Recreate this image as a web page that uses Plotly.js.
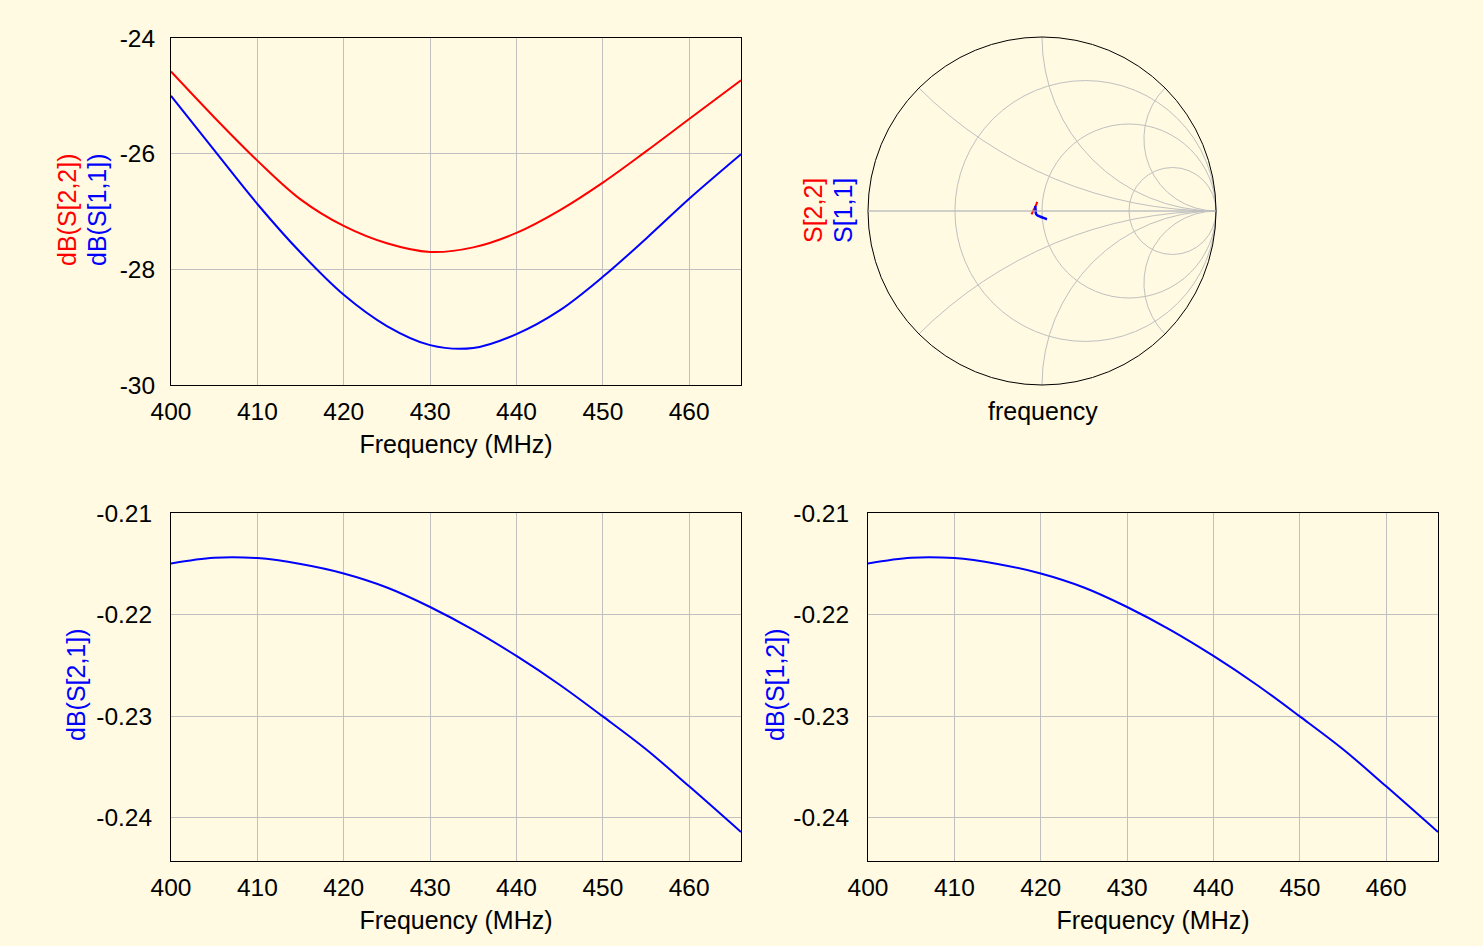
<!DOCTYPE html>
<html>
<head>
<meta charset="utf-8">
<script src="https://cdn.plot.ly/plotly-3.0.1.min.js"></script>
<style>
html, body { margin:0; padding:0; background:#fffae1; }
#chart { width:1483px; height:946px; }
</style>
</head>
<body>
<div id="chart"></div>
<script>
// sweep points (MHz)
var freq = [400, 405, 410, 415, 420, 425, 430, 435, 440, 445, 450, 455, 460, 466];

// reflection, dB
var s22Db = [-24.58, -25.37, -26.12, -26.79, -27.25, -27.55, -27.70, -27.62, -27.37, -26.98, -26.50, -25.96, -25.40, -24.73];
var s11Db = [-25.00, -25.94, -26.87, -27.71, -28.44, -28.98, -29.31, -29.36, -29.12, -28.71, -28.13, -27.47, -26.78, -26.01];

// transmission, dB
var s21Db = [-0.21496, -0.21440, -0.21444, -0.21502, -0.21595, -0.21733, -0.21925, -0.22150, -0.22407, -0.22690, -0.23002, -0.23325, -0.23690, -0.24140];
var s12Db = [-0.21496, -0.21440, -0.21444, -0.21502, -0.21595, -0.21733, -0.21925, -0.22150, -0.22407, -0.22690, -0.23002, -0.23325, -0.23690, -0.24140];

// smith chart, reflection coefficient (re, im)
var s22GamRe = [-0.027, -0.031, -0.036, -0.042, -0.049, -0.055, -0.060];
var s22GamIm = [0.053, 0.043, 0.031, 0.018, 0.005, -0.008, -0.019];
var s11GamRe = [-0.0385, -0.037, -0.0345, -0.025, -0.0115, 0.008, 0.0287];
var s11GamIm = [0.0287, 0.010, -0.0155, -0.026, -0.0316, -0.040, -0.0477];

var fTicks = [400, 410, 420, 430, 440, 450, 460];
var fTickText = ['400', '410', '420', '430', '440', '450', '460'];
var reflTicks = [-30, -28, -26, -24];
var reflTickText = ['-30', '-28', '-26', '-24'];
var transTicks = [-0.24, -0.23, -0.22, -0.21];
var transTickText = ['-0.24', '-0.23', '-0.22', '-0.21'];

// smith grid: resistance circles and reactance arcs
var rGrid = [0.333, 1, 3];
var xGrid = [-2.414, -1, -0.414, 0, 0.414, 1, 2.414];

function gammaToZ(re, im) {
    var r = [], x = [];
    for (var i = 0; i < re.length; i++) {
        var a = re[i], b = im[i];
        var d = (1 - a) * (1 - a) + b * b;
        r.push((1 - a * a - b * b) / d);
        x.push(2 * b / d);
    }
    return {r: r, x: x};
}

var RED = '#ff0000', BLUE = '#0000ff';
var z22 = gammaToZ(s22GamRe, s22GamIm);
var z11 = gammaToZ(s11GamRe, s11GamIm);

var lineOf = function(c) { return {color: c, width: 2, shape: 'spline', smoothing: 1}; };

var data = [
    {x: freq, y: s22Db, xaxis: 'x', yaxis: 'y', mode: 'lines', line: lineOf(RED), name: 'dB(S[2,2])'},
    {x: freq, y: s11Db, xaxis: 'x', yaxis: 'y', mode: 'lines', line: lineOf(BLUE), name: 'dB(S[1,1])'},
    {x: freq, y: s21Db, xaxis: 'x2', yaxis: 'y2', mode: 'lines', line: lineOf(BLUE), name: 'dB(S[2,1])'},
    {x: freq, y: s12Db, xaxis: 'x3', yaxis: 'y3', mode: 'lines', line: lineOf(BLUE), name: 'dB(S[1,2])'},
    {type: 'scattersmith', real: z22.r, imag: z22.x, mode: 'lines', line: {color: RED, width: 2, shape: 'spline'}, name: 'S[2,2]'},
    {type: 'scattersmith', real: z11.r, imag: z11.x, mode: 'lines', line: {color: BLUE, width: 2.5, shape: 'spline'}, name: 'S[1,1]'}
];

var W = 1483, H = 946;
function px(a, b) { return [a / W, b / W]; }
function py(top, bottom) { return [1 - bottom / H, 1 - top / H]; }

function xAx(dom, anchor) {
    return {
        domain: dom, anchor: anchor, range: [400, 466],
        tickvals: fTicks, ticktext: fTickText, ticks: '', ticklabelstandoff: 5,
        showgrid: true, gridcolor: '#c0c0c0', gridwidth: 1, zeroline: false,
        showline: true, mirror: true, linecolor: '#000', linewidth: 1,
        title: {text: 'Frequency (MHz)', standoff: 11, font: {size: 25}}
    };
}
function yAx(dom, anchor, rng, tv, tt, so) {
    return {
        domain: dom, anchor: anchor, range: rng,
        tickvals: tv, ticktext: tt, ticks: '', ticklabelstandoff: so,
        showgrid: true, gridcolor: '#c0c0c0', gridwidth: 1, zeroline: false,
        showline: true, mirror: true, linecolor: '#000', linewidth: 1
    };
}

var topY = py(38, 385), botY = py(513, 860.5);
var leftX = px(171, 741), rightX = px(868, 1438);

function vTitle(txt, color, x, y) {
    return {text: txt, x: x / W, y: 1 - y / H, xref: 'paper', yref: 'paper',
        xanchor: 'center', yanchor: 'middle', textangle: -90, showarrow: false,
        font: {color: color, size: 25}};
}

var layout = {
    width: W, height: H,
    margin: {l: 0, r: 0, t: 0, b: 0},
    paper_bgcolor: '#fffae1', plot_bgcolor: '#fffae1',
    showlegend: false,
    font: {family: '"Liberation Sans", Arial, sans-serif', size: 24.5, color: '#000'},
    xaxis: xAx(leftX, 'y'),
    yaxis: yAx(topY, 'x', [-30, -24], reflTicks, reflTickText, 10),
    xaxis2: xAx(leftX, 'y2'),
    yaxis2: yAx(botY, 'x2', [-0.2442, -0.21], transTicks, transTickText, 13),
    xaxis3: xAx(rightX, 'y3'),
    yaxis3: yAx(botY, 'x3', [-0.2442, -0.21], transTicks, transTickText, 13),
    smith: {
        domain: {x: px(868, 1216), y: py(37, 385)},
        bgcolor: 'rgba(0,0,0,0)',
        realaxis: {tickvals: rGrid, showticklabels: false, ticks: '', showgrid: true,
            gridcolor: '#c0c0c0', gridwidth: 1, showline: true, linecolor: '#c0c0c0', linewidth: 1},
        imaginaryaxis: {tickvals: xGrid, showticklabels: false, ticks: '', showgrid: true,
            gridcolor: '#c0c0c0', gridwidth: 1, showline: true, linecolor: '#000', linewidth: 1}
    },
    annotations: [
        vTitle('dB(S[2,2])', RED, 67, 210),
        vTitle('dB(S[1,1])', BLUE, 97, 210),
        vTitle('dB(S[2,1])', BLUE, 76, 685),
        vTitle('dB(S[1,2])', BLUE, 775, 685),
        vTitle('S[2,2]', RED, 813, 211),
        vTitle('S[1,1]', BLUE, 843, 211),
        {text: 'frequency', x: 1043 / W, y: 1 - 411 / H, xref: 'paper', yref: 'paper',
            xanchor: 'center', yanchor: 'middle', showarrow: false, font: {size: 25}}
    ]
};

Plotly.newPlot('chart', data, layout, {staticPlot: true});
</script>
</body>
</html>
